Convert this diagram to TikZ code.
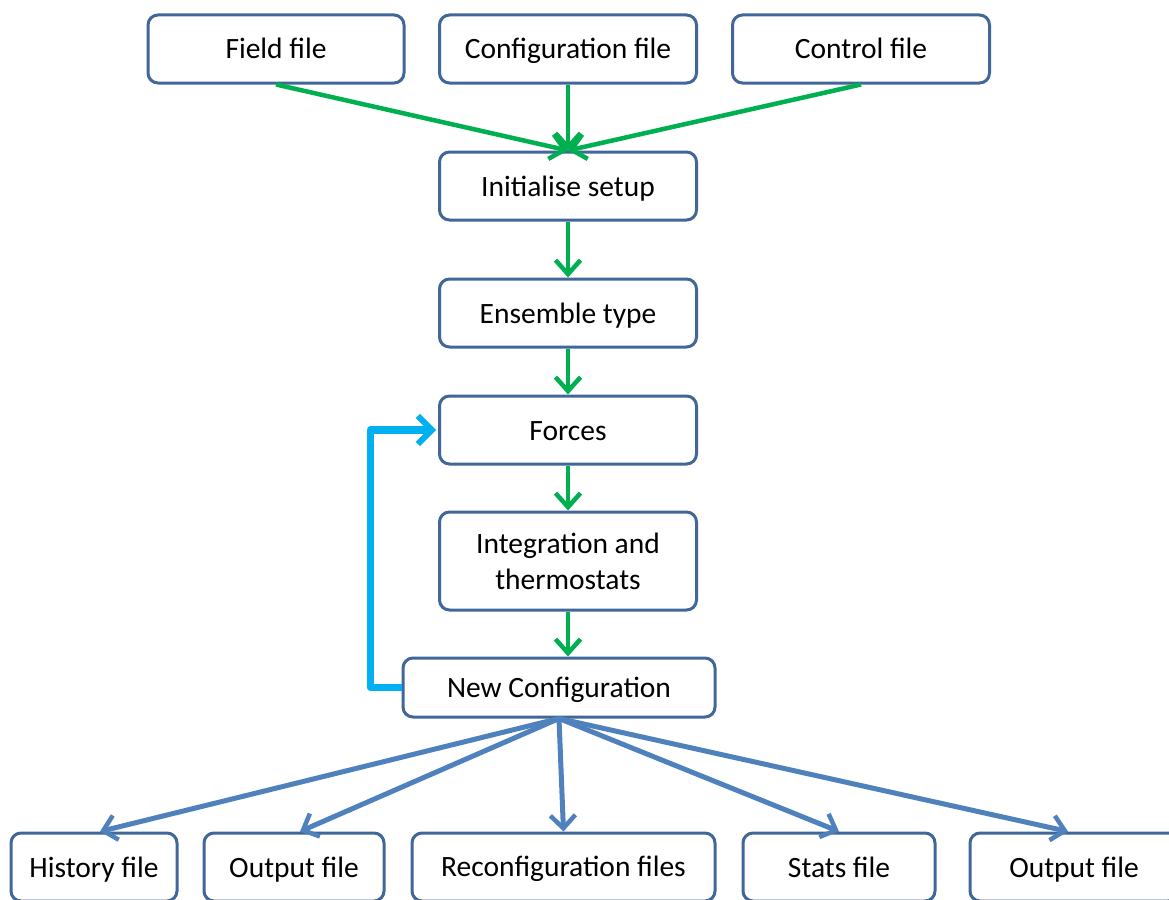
\documentclass[tikz,border=0pt]{standalone}
\usepackage{fontspec}
\setmainfont{Carlito}
\usetikzlibrary{arrows.meta}
\definecolor{boxc}{HTML}{41679A}
\definecolor{grn}{HTML}{00B050}
\definecolor{cyanl}{HTML}{00B0F0}
\definecolor{bluel}{HTML}{4F81BD}
\newcommand\mystrut{\rule[-5pt]{0pt}{30pt}}
\tikzset{
  box/.style={draw=boxc, line width=3pt, rounded corners=10pt, fill=white,
    minimum height=68pt, align=center, inner sep=0pt,
    font=\fontsize{29.5}{36}\selectfont},
  garrow/.style={draw=grn, line width=4.5pt, -{Straight Barb[length=14pt,width=25pt,line width=4.5pt]}},
  barrow/.style={draw=bluel, line width=5pt, -{Straight Barb[length=13pt,width=25pt,line width=4.5pt]}},
  loop/.style={draw=cyanl, line width=7.5pt, line join=round, -{Straight Barb[length=14pt,width=28pt,line width=6pt]}}
}
\begin{document}
\begin{tikzpicture}[x=1pt,y=-1pt]
\clip (0,0) rectangle (1169,899);
\fill[white] (0,0) rectangle (1169,899);
\node[box, minimum width=256pt] (field) at (276,49) {\mystrut Field file};
\node[box, minimum width=257pt] (conf) at (568,49) {\mystrut Configuration file};
\node[box, minimum width=257pt] (ctrl) at (861,49) {\mystrut Control file};
\node[box, minimum width=257pt] (init) at (568,186) {\mystrut Initialise setup};
\node[box, minimum width=257pt] (ens) at (568,313) {\mystrut Ensemble type};
\node[box, minimum width=257pt] (forces) at (568,430) {\mystrut Forces};
\node[box, minimum width=257pt, minimum height=98pt] (integ) at (568,561) {Integration and\\thermostats};
\node[box, minimum width=312pt, minimum height=59pt] (newc) at (559,687.5) {\mystrut New Configuration};
\node[box, minimum width=166pt] (hist) at (94,867) {\mystrut History file};
\node[box, minimum width=180pt] (out1) at (294,867) {\mystrut Output file};
\node[box, minimum width=303pt] (reconf) at (563.5,867) {\mystrut Reconfiguration files};
\node[box, minimum width=192pt] (stats) at (839,867) {\mystrut Stats file};
\node[box, minimum width=208pt] (out2) at (1074,867) {\mystrut Output file};

\draw[garrow] (field.south) -- (init.north);
\draw[garrow] (conf.south) -- (init.north);
\draw[garrow] (ctrl.south) -- (init.north);
\draw[garrow] (init.south) -- (ens.north);
\draw[garrow] (ens.south) -- (forces.north);
\draw[garrow] (forces.south) -- (integ.north);
\draw[garrow] (integ.south) -- ([xshift=9pt]newc.north);

\draw[loop] (newc.west) -- ([xshift=-31pt]newc.west) |- ([xshift=-2pt]forces.west);

\draw[barrow] (newc.south) -- ([xshift=6pt]hist.north);
\draw[barrow] (newc.south) -- ([xshift=6pt]out1.north);
\draw[barrow] (newc.south) -- (reconf.north);
\draw[barrow] (newc.south) -- (stats.north);
\draw[barrow] (newc.south) -- ([xshift=-6pt]out2.north);
\end{tikzpicture}
\end{document}
